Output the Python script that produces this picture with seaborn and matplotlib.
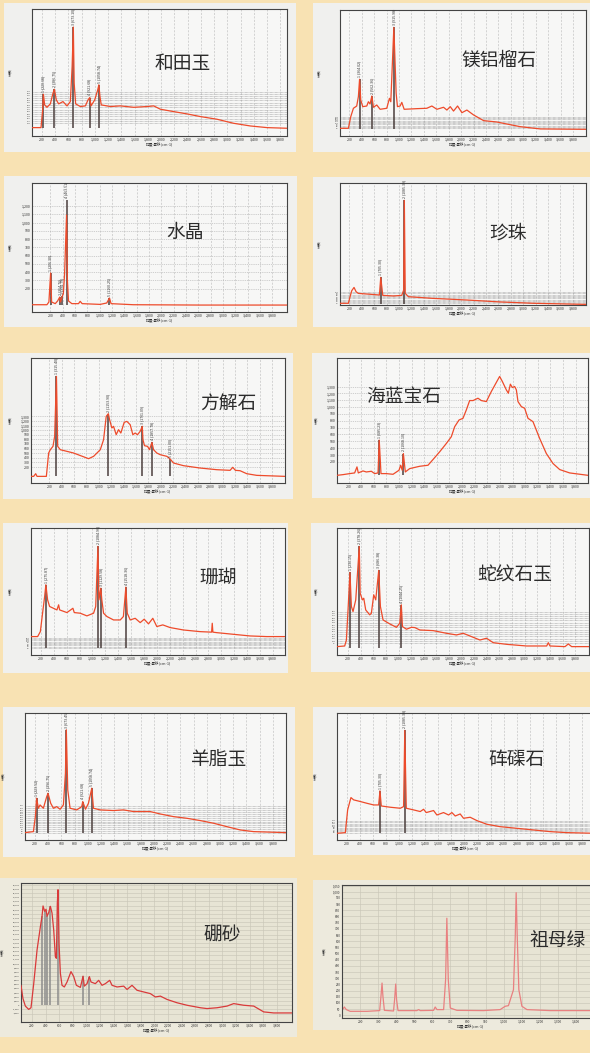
import matplotlib
matplotlib.use("Agg")
from matplotlib import pyplot as plt
from matplotlib.patches import Rectangle
import seaborn as sns

sns.set_style("white")
plt.rcParams['font.family'] = ['Noto Sans CJK SC', 'DejaVu Sans']

# ---- data (wavenumber cm-1, counts) ---------------------------------------
hetian_x = [49, 185, 210, 221, 240, 275, 326, 366, 387, 416, 452, 517, 578, 628, 655, 673, 686, 708, 779, 855,
            895, 922, 940, 996, 1040, 1059, 1075, 1095, 1232, 1383, 1585, 1786, 1887, 1987, 2189, 2390, 2591,
            2843, 3095, 3347, 3599, 3900]
hetian_y = [66, 66, 205, 329, 245, 226, 253, 337, 368, 284, 253, 271, 237, 271, 547, 858, 416, 253, 232, 237,
            284, 303, 237, 284, 360, 403, 311, 245, 232, 237, 226, 232, 237, 211, 192, 174, 153, 132, 100, 79,
            66, 61]
hetian_pk = [220.68, 386.75, 673.10, 921.68, 1058.74]
hetian_pk_y = [329, 368, 858, 303, 403]
hetian_band = [100, 118, 136, 154, 172, 190, 208, 226, 244, 262, 280, 298, 316, 334, 350]

pyrope_x = [49, 184, 222, 265, 318, 345, 364, 383, 415, 480, 506, 533, 562, 587, 641, 695, 802, 845, 867, 916,
            953, 974, 1017, 1044, 1082, 1286, 1447, 1528, 1609, 1716, 1770, 1824, 1877, 1942, 2012, 2092, 2200,
            2361, 2576, 2737, 2952, 3275, 4010]
pyrope_y = [61, 61, 153, 220, 238, 312, 450, 286, 233, 238, 272, 254, 317, 228, 246, 212, 220, 299, 272, 862,
            339, 233, 238, 267, 212, 217, 220, 238, 212, 228, 206, 233, 198, 238, 185, 206, 167, 122, 111, 95,
            74, 56, 53]
pyrope_pk = [364.02, 562.36, 915.98]
pyrope_pk_y = [450, 317, 862]
pyrope_band = [62, 72, 82, 92, 102, 112, 122, 132, 142, 150]

quartz_x = [-96, 146, 178, 206, 222, 281, 319, 354, 367, 395, 412, 432, 464, 478, 496, 550, 658, 685, 717, 1009,
            1116, 1160, 1186, 1547, 2625, 4038]
quartz_y = [6, 6, 39, 390, 39, 19, 51, 99, 39, 107, 140, 373, 1090, 301, 51, 19, 19, 47, 19, 10,
            27, 87, 19, 6, 2, 2]
quartz_pk = [206.30, 354.76, 394.75, 463.51, 1160.25]
quartz_pk_y = [390, 99, 107, 1270, 87]

pearl_x = [49, 184, 211, 238, 275, 308, 345, 480, 684, 705.3, 738, 910, 1044, 1075, 1085.39, 1100, 1152, 1555,
           2092, 2630, 3168, 4012]
pearl_y = [14, 14, 68, 117, 144, 109, 95, 90, 82, 226, 79, 74, 79, 123, 858, 95, 68, 54, 41, 25, 14, 5]
pearl_pk = [705.30, 1085.39]
pearl_pk_y = [226, 858]
pearl_band = [15, 25, 35, 45, 55, 65, 75, 85, 95, 105]

calcite_x = [-96, -53, -20, 1, 152, 189, 216, 259, 286, 315, 335, 377, 592, 834, 915, 1023, 1076, 1119, 1153,
             1173, 1210, 1237, 1280, 1318, 1355, 1409, 1452, 1506, 1549, 1586, 1624, 1667, 1701, 1712, 1737,
             1786, 1818, 1857, 1883, 1936, 1990, 2098, 2151, 2205, 2367, 2635, 2904, 3119, 3162, 3205, 3280,
             3388, 3549, 4006]
calcite_y = [-3, -3, 55, -3, -3, 504, 576, 649, 866, 2168, 649, 576, 504, 381, 432, 576, 793, 1300, 1358,
             1228, 1047, 1083, 902, 1011, 938, 1170, 1191, 1119, 902, 938, 902, 974, 1083, 793, 663,
             649, 576, 736, 576, 504, 468, 432, 374, 287, 229, 178, 142, 128, 193, 128, 120,
             55, 19, -3]
calcite_pk = [315.40, 1153.90, 1701.09, 1857.78, 2151.00]
calcite_pk_y = [2168, 1358, 1083, 736, 374]

beryl_x = [15, 110, 216, 295, 332, 353, 427, 480, 560, 613, 666, 685.23, 713, 798, 904, 999, 1025, 1050,
           1068.10, 1099, 1168, 1327, 1459, 1538, 1644, 1750, 1829, 1882, 1951, 2014, 2067, 2120, 2173, 2252,
           2305, 2385, 2464, 2543, 2596, 2639, 2702, 2734, 2766, 2797, 2834, 2861, 2887, 2940, 2993, 3046,
           3125, 3231, 3337, 3443, 3549, 3707, 3998]
beryl_y = [4, 14, 29, 39, 127, 39, 68, 53, 63, 29, 39, 518, 29, 29, 19, 78, 151, 78,
           322, 53, 102, 136, 151, 234, 347, 469, 567, 713, 811, 836, 958, 1095, 1095, 1129,
           1095, 1080, 1227, 1359, 1447, 1373, 1251, 1202, 1334, 1285, 1300, 1251, 1080, 1007, 982, 836,
           787, 542, 322, 176, 88, 39, 4]
beryl_pk = [685.23, 1068.10]
beryl_pk_y = [518, 322]

coral_x = [45, 148, 190, 231, 257, 275.87, 303, 334, 448, 474, 490, 603, 696, 717, 810, 913, 1017, 1050,
           1084.96, 1100, 1129.58, 1145, 1172, 1224, 1327, 1431, 1480, 1518.36, 1540, 1586, 1663, 1741, 1803,
           1870, 1937, 1999, 2092, 2206, 2413, 2671, 2850, 2860, 2870, 2930, 3188, 3447, 3705, 3990]
coral_y = [145, 145, 184, 355, 461, 553, 434, 382, 355, 395, 355, 334, 368, 334, 329, 308, 329, 382,
           855, 434, 526, 434, 329, 303, 276, 276, 303, 534, 329, 276, 289, 255, 282,
           245, 289, 224, 237, 216, 197, 184, 180, 250, 180, 176, 163, 150, 145, 145]
coral_pk = [275.87, 1084.96, 1129.58, 1518.36]
coral_pk_y = [553, 855, 526, 534]
coral_band = [55, 65, 75, 85, 95, 105, 115, 125, 132]

serp_x = [25, 147, 174, 200, 230.15, 253, 279, 322, 378.26, 392, 427, 449, 480, 544, 570, 607, 639, 686.38,
          713, 755, 861, 967, 1020, 1044.25, 1062, 1126, 1205, 1258, 1337, 1549, 1760, 1919, 2025, 2131,
          2290, 2395, 2501, 2713, 3030, 3348, 3374, 3401, 3639, 3691, 3744, 4019]
serp_y = [66, 71, 118, 355, 650, 382, 342, 434, 855, 487, 434, 447, 355, 316, 329, 474, 434, 666,
          382, 276, 245, 218, 250, 395, 224, 203, 218, 216, 197, 192, 171, 158, 171, 150,
          118, 132, 97, 84, 71, 71, 97, 71, 66, 87, 66, 66]
serp_pk = [230.15, 378.26, 686.38, 1044.25]
serp_pk_y = [650, 855, 666, 395]
serp_band = [92, 110, 128, 146, 164, 182, 200, 218, 236, 254, 272, 290, 308, 326, 342]

mutton_x = [48, 175, 205, 223.52, 251, 276, 326, 377, 396.75, 437, 478, 528, 579, 629, 660, 673.45, 695, 730,
            831, 907, 921.68, 963, 1008, 1058.74, 1084, 1185, 1387, 1538, 1690, 1942, 2094, 2296, 2498, 2700,
            2902, 3104, 3306, 3508, 3998]
mutton_y = [58, 66, 184, 329, 250, 276, 250, 342, 368, 289, 250, 263, 242, 276, 526, 868, 395, 250,
            237, 263, 303, 242, 289, 408, 250, 237, 232, 237, 224, 224, 205, 184, 171, 153,
            132, 105, 79, 66, 58]
mutton_pk = [223.52, 396.75, 673.45, 921.68, 1058.74]
mutton_pk_y = [329, 368, 868, 303, 408]
mutton_band = [55, 70, 85, 100, 115, 130, 145, 160, 175, 190, 205, 220, 235, 250, 268]

clam_x = [47, 175, 210, 251, 261, 302, 404, 506, 608, 685, 705.30, 725, 863, 1016, 1067, 1085.38, 1108, 1220,
          1322, 1373, 1414, 1526, 1577, 1679, 1756, 1807, 1858, 1934, 1985, 2087, 2189, 2342, 2546, 2801,
          3056, 3311, 3566, 3999]
clam_y = [53, 58, 237, 316, 334, 316, 303, 289, 276, 276, 387, 268, 258, 250, 263, 863, 250, 237,
          224, 242, 216, 232, 197, 216, 197, 216, 189, 205, 171, 179, 153, 124, 105, 92,
          79, 66, 58, 53]
clam_pk = [705.30, 1085.38]
clam_pk_y = [387, 863]
clam_band = [58, 68, 78, 88, 98, 108, 118, 128, 138, 153]

borax_x = [38, 67, 102, 151, 185, 225, 274, 323, 347, 362, 386, 406, 420, 445, 470, 494, 519, 543, 558, 572,
           582, 597, 617, 641, 675, 715, 773, 813, 852, 911, 950, 969, 1009, 1043, 1067, 1131, 1180, 1229,
           1278, 1342, 1376, 1450, 1548, 1597, 1670, 1744, 1842, 1940, 2013, 2087, 2185, 2332, 2479, 2675,
           2773, 2920, 3067, 3165, 3312, 3459, 3606, 3753, 4022]
borax_y = [4800, 1600, -200, -1000, -600, 5200, 13300, 18900, 21400, 23900, 22600, 23100, 21400, 22300,
           23800, 22200, 18100, 11700, 11300, 24600, 27800, 14900, 7700, 4800, 4400, 5600, 8100, 6900,
           4800, 4300, 7000, 4600, 5200, 6900, 5600, 5200, 6000, 4800, 5200, 6000, 4800, 4400, 4600,
           3800, 4800, 3600, 3200, 2800, 2000, 2200, 1400, 600, 0, -600, -800, -600, -200, 400, 0,
           -200, -1600, -1850, -1850]
borax_pk = [347, 386, 420, 470, 582, 950, 1043]
borax_pk_y = [21400, 22600, 21400, 23800, 27800, 7000, 6900]

emerald_x = [98, 111, 122, 144, 237, 308, 315, 321, 326, 334, 385, 391, 397, 402, 410, 515, 525, 534, 608, 617,
             627, 664, 675, 682, 690, 701, 738, 886, 979, 1007, 1025, 1053, 1063, 1068, 1074, 1083, 1100,
             1128, 1257, 1535]
emerald_y = [40, 67, 46, 32, 32, 38, 153, 261, 153, 40, 35, 127, 253, 127, 38, 38, 46, 38, 40, 67,
             46, 46, 288, 786, 288, 59, 40, 38, 46, 73, 78, 207, 638, 993, 638, 207, 73,
             46, 38, 38]

x_ticks = [200, 400, 600, 800, 1000, 1200, 1400, 1600, 1800, 2000, 2200, 2400, 2600, 2800, 3000, 3200,
           3400, 3600, 3800]
emerald_x_ticks = [200, 300, 400, 500, 600, 700, 800, 900, 1000, 1100, 1200, 1300, 1400]
y_1200 = [200, 300, 400, 500, 600, 700, 800, 900, 1000, 1100, 1200]
y_1300 = [200, 300, 400, 500, 600, 700, 800, 900, 1000, 1100, 1200, 1300]
borax_y_ticks = list(range(-2000, 29001, 1000))
emerald_y_ticks = list(range(0, 1051, 50))


def labels_for(pk):
    return [f"{i + 1} ({v:.2f})" for i, v in enumerate(pk)]


# ---- layout (pixel boxes l, t, r, b) --------------------------------------
W, H = 590, 1053
PAGE = '#F8E2B3'
CARD = '#F0F0EE'
CARD2 = '#EDEADD'

panels = [
    dict(name='和田玉', x=hetian_x, y=hetian_y, pk=hetian_pk, pky=hetian_pk_y, base=61, band=hetian_band,
         card=(4, 3, 296, 152), axes=(32, 9, 287, 136), xlim=(49, 3900), ylim=(0, 1000), title=(183, 63)),
    dict(name='镁铝榴石', x=pyrope_x, y=pyrope_y, pk=pyrope_pk, pky=pyrope_pk_y, base=53, band=pyrope_band,
         card=(313, 3, 592, 152), axes=(340, 10, 586, 136), xlim=(49, 4010), ylim=(0, 1000), title=(499, 60)),
    dict(name='水晶', x=quartz_x, y=quartz_y, pk=quartz_pk, pky=quartz_pk_y, base=0, yt=y_1200,
         card=(4, 176, 297, 327), axes=(32, 183, 287, 312), xlim=(-96, 4038), ylim=(-82, 1478), title=(185, 232)),
    dict(name='珍珠', x=pearl_x, y=pearl_y, pk=pearl_pk, pky=pearl_pk_y, base=5, band=pearl_band,
         card=(313, 177, 592, 327), axes=(340, 183, 586, 305), xlim=(49, 4012), ylim=(0, 1000), title=(508, 233)),
    dict(name='方解石', x=calcite_x, y=calcite_y, pk=calcite_pk, pky=calcite_pk_y, base=-3, yt=y_1300,
         card=(3, 353, 293, 499), axes=(31, 358, 285, 483), xlim=(-96, 4006), ylim=(-147, 2567), title=(228, 403)),
    dict(name='海蓝宝石', x=beryl_x, y=beryl_y, pk=beryl_pk, pky=beryl_pk_y, base=4, yt=y_1300,
         card=(312, 353, 592, 498), axes=(337, 358, 588, 483), xlim=(15, 3998), ylim=(-108, 1716), title=(404, 396)),
    dict(name='珊瑚', x=coral_x, y=coral_y, pk=coral_pk, pky=coral_pk_y, base=53, band=coral_band,
         card=(3, 523, 288, 673), axes=(31, 528, 285, 655), xlim=(45, 3990), ylim=(0, 1000), title=(218, 577)),
    dict(name='蛇纹石玉', x=serp_x, y=serp_y, pk=serp_pk, pky=serp_pk_y, base=53, band=serp_band,
         card=(311, 523, 592, 672), axes=(337, 528, 589, 655), xlim=(25, 4019), ylim=(0, 1000), title=(515, 575)),
    dict(name='羊脂玉', x=mutton_x, y=mutton_y, pk=mutton_pk, pky=mutton_pk_y, base=58, band=mutton_band,
         card=(3, 707, 295, 857), axes=(25, 713, 286, 840), xlim=(48, 3998), ylim=(0, 1000), title=(219, 760)),
    dict(name='砗磲石', x=clam_x, y=clam_y, pk=clam_pk, pky=clam_pk_y, base=53, band=clam_band,
         card=(313, 707, 592, 855), axes=(337, 713, 595, 840), xlim=(47, 3999), ylim=(0, 1000), title=(517, 760)),
]

fig = plt.figure(figsize=(W / 100, H / 100), dpi=100)
fig.patch.set_facecolor(PAGE)


def box(l, t, r, b):
    return [l / W, 1 - b / H, (r - l) / W, (b - t) / H]


def add_card(c, color):
    l, t, r, b = c
    fig.add_artist(Rectangle((l / W, 1 - b / H), (r - l) / W, (b - t) / H, transform=fig.transFigure,
                             facecolor=color, edgecolor='none', zorder=-5))


def style_axes(ax, face):
    ax.set_facecolor(face)
    for s in ax.spines.values():
        s.set_color('#444444')
        s.set_linewidth(0.8)
    ax.tick_params(length=0, pad=1.2)
    ax.set_xlabel('拉曼漂移(cm-1)', fontsize=2.8, labelpad=0.8, color='#333333')
    ax.set_ylabel('计数', fontsize=2.8, color='#333333')


for p in panels:
    add_card(p['card'], CARD)
    ax = fig.add_axes(box(*p['axes']))
    style_axes(ax, '#F7F7F6')
    ax.set_xlim(*p['xlim'])
    ax.set_ylim(*p['ylim'])
    ax.set_xticks(x_ticks)
    ax.set_xticklabels([f"{v:,}" for v in x_ticks], fontsize=2.6, color='#333333')
    ax.xaxis.grid(True, linestyle=(0, (3, 2)), color='#C4C4C4', linewidth=0.5)
    if 'band' in p:
        ax.set_yticks(p['band'])
        ax.set_yticklabels([f"{v:,}" for v in p['band']], fontsize=1.6, color='#333333')
        ax.yaxis.grid(True, linestyle=(0, (1, 1)), color='#8E8E8E', linewidth=0.45)
    else:
        ax.set_yticks(p['yt'])
        ax.set_yticklabels([f"{v:,}" for v in p['yt']], fontsize=2.6, color='#333333')
        ax.yaxis.grid(True, linestyle=(0, (2, 1.5)), color='#B8B8B8', linewidth=0.45)
    ax.yaxis.set_label_coords(-0.075, 0.5)
    ax.set_axisbelow(True)
    ax.vlines(p['pk'], p['base'], p['pky'], color='#4B3F3D', linewidth=1.1, zorder=2)
    sns.lineplot(x=p['x'], y=p['y'], ax=ax, color='#EE4B2B', linewidth=0.9, sort=False,
                 estimator=None, zorder=3)
    for xv, yv, lab in zip(p['pk'], p['pky'], labels_for(p['pk'])):
        ax.annotate(lab, (xv, yv), xytext=(0, 1.5), textcoords='offset points', rotation=90,
                    ha='center', va='bottom', fontsize=2.6, color='#333333')
    fig.text(p['title'][0] / W, 1 - p['title'][1] / H, p['name'], fontsize=13.5, color='#2B2B2B',
             ha='center', va='center')

# ---- bottom row: borax and emerald (different software look) ---------------
add_card((0, 878, 297, 1037), CARD2)
ax = fig.add_axes(box(21, 883, 292, 1022))
style_axes(ax, '#E7E4D4')
ax.set_xlim(38, 4022)
ax.set_ylim(-4030, 29420)
ax.set_xticks(x_ticks)
ax.set_xticklabels([f"{v:,}" for v in x_ticks], fontsize=2.4, color='#333333')
ax.set_yticks(borax_y_ticks)
ax.set_yticklabels([f"{v:,}" for v in borax_y_ticks], fontsize=1.7, color='#333333')
ax.grid(True, color='#C9C6B8', linewidth=0.45)
ax.set_axisbelow(True)
ax.yaxis.set_label_coords(-0.06, 0.5)
ax.vlines(borax_pk, 0, borax_pk_y, color='#8C8C8C', linewidth=1.1, zorder=2)
sns.lineplot(x=borax_x, y=borax_y, ax=ax, color='#D93A3A', linewidth=0.9, sort=False, estimator=None, zorder=3)
fig.text(222 / W, 1 - 935 / H, '硼砂', fontsize=13.5, color='#2B2B2B', ha='center', va='center')

add_card((313, 880, 592, 1030), CARD2)
ax = fig.add_axes(box(342, 885, 600, 1018))
style_axes(ax, '#E7E4D4')
ax.set_xlim(98, 1535)
ax.set_ylim(-22, 1055)
ax.set_xticks(emerald_x_ticks)
ax.set_xticklabels([f"{v:,}" for v in emerald_x_ticks], fontsize=2.4, color='#333333')
ax.set_yticks(emerald_y_ticks)
ax.set_yticklabels([f"{v:,}" for v in emerald_y_ticks], fontsize=2.2, color='#333333')
ax.grid(True, color='#C9C6B8', linewidth=0.45)
ax.set_axisbelow(True)
ax.yaxis.set_label_coords(-0.06, 0.5)
sns.lineplot(x=emerald_x, y=emerald_y, ax=ax, color='#E98080', linewidth=0.9, sort=False, estimator=None)
fig.text(558 / W, 1 - 940 / H, '祖母绿', fontsize=13.5, color='#2B2B2B', ha='center', va='center')

fig.savefig('out.png', dpi=100, facecolor=fig.get_facecolor())
